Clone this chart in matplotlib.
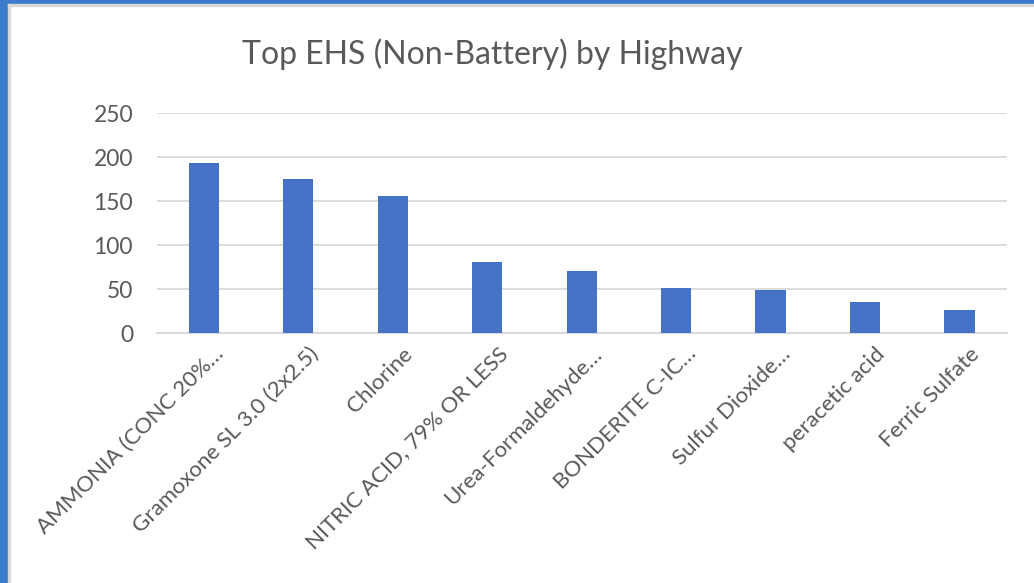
import matplotlib
matplotlib.use("Agg")
import matplotlib.pyplot as plt
import matplotlib.transforms as mtransforms
from matplotlib.patches import Rectangle

categories = [
    "AMMONIA (CONC 20%…",
    "Gramoxone SL 3.0 (2x2.5)",
    "Chlorine",
    "NITRIC ACID, 79% OR LESS",
    "Urea-Formaldehyde…",
    "BONDERITE C-IC…",
    "Sulfur Dioxide…",
    "peracetic acid",
    "Ferric Sulfate",
]
counts = [193, 175, 156, 81, 70, 51, 49, 35, 26]
y_ticks = [0, 50, 100, 150, 200, 250]

plt.rcParams["font.family"] = ["Lato", "DejaVu Sans"]
TEXT = "#595959"
GRID = "#D9D9D9"
BAR = "#4472C4"

fig = plt.figure(figsize=(10.34, 5.83), dpi=100)
W, H = 1034, 583

# window frame from the screenshot (blue left/top edge)
fig.patches.append(Rectangle((0, 0), 8 / W, 1, transform=fig.transFigure, color="#3C7BCB", zorder=0))
fig.patches.append(Rectangle((0, 1 - 4 / H), 1, 4 / H, transform=fig.transFigure, color="#3C7BCB", zorder=0))
fig.patches.append(Rectangle((8 / W, 0), 2 / W, 1 - 4 / H, transform=fig.transFigure, color=GRID, zorder=0))
fig.patches.append(Rectangle((8 / W, 1 - 6 / H), 1 - 8 / W, 2 / H, transform=fig.transFigure, color=GRID, zorder=0))

ax = fig.add_axes([156.7 / W, 1 - 333 / H, 850 / W, 219.7 / H])
x = range(len(categories))
ax.bar(x, counts, width=0.32, color=BAR, zorder=3)

ax.set_xlim(-0.5, len(categories) - 0.5)
ax.set_ylim(0, 250)
ax.set_yticks(y_ticks)
ax.set_yticklabels([str(v) for v in y_ticks], color=TEXT, fontsize=16.5)
ax.yaxis.grid(True, color=GRID, linewidth=1.3, zorder=0)
ax.tick_params(axis="both", length=0)
ax.tick_params(axis="y", pad=17)
for side in ["top", "right", "left"]:
    ax.spines[side].set_visible(False)
ax.spines["bottom"].set_color(GRID)
ax.spines["bottom"].set_linewidth(1.5)

ax.set_xticks(list(x))
ax.set_xticklabels(categories, rotation=45, ha="right", va="top",
                   rotation_mode="anchor", color=TEXT, fontsize=16)
offset = mtransforms.ScaledTranslation(10 / 100, -6 / 100, fig.dpi_scale_trans)
for lbl in ax.get_xticklabels():
    lbl.set_transform(lbl.get_transform() + offset)

fig.text(492 / W, 1 - 54 / H, "Top EHS (Non-Battery) by Highway", ha="center", va="center",
         fontsize=23, color=TEXT)

fig.savefig("out.png", dpi=100, facecolor="white")
